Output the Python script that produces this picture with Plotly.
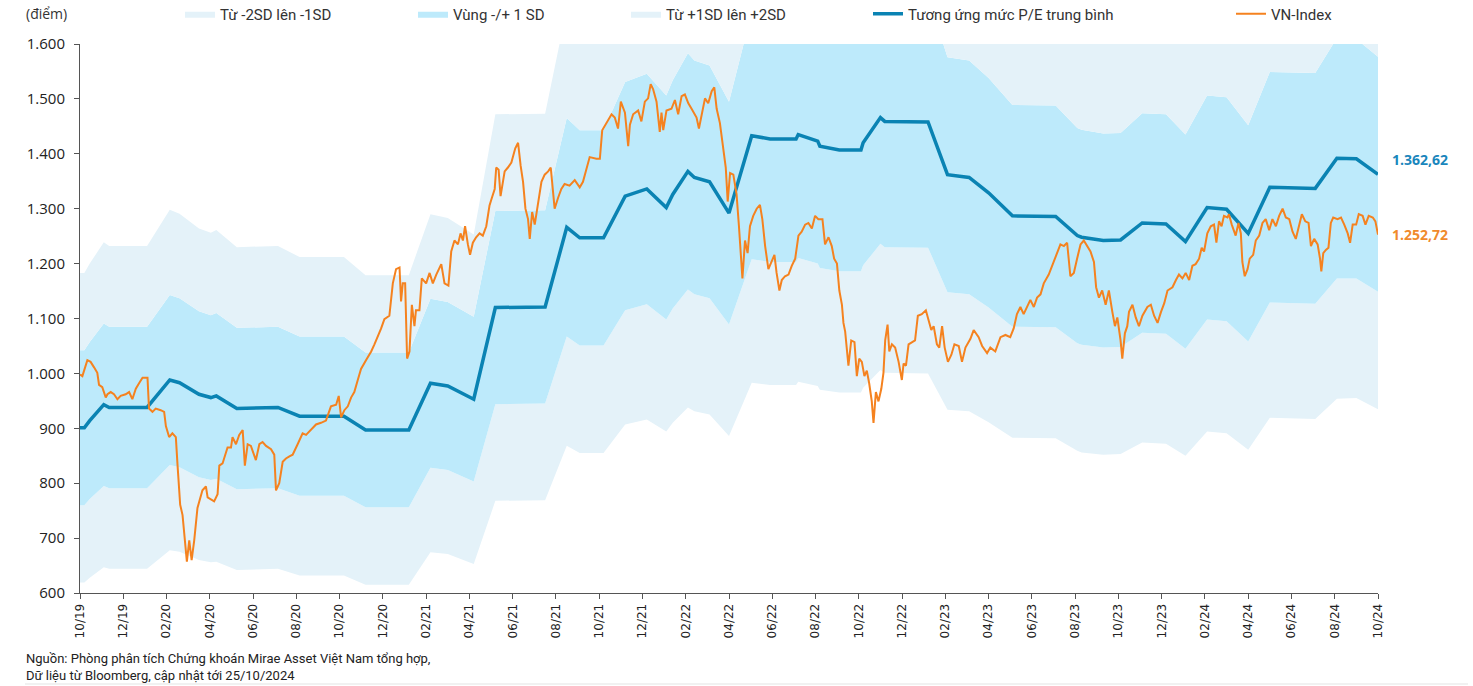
import plotly.graph_objects as go

# ---------------- data ----------------
x_tick_labels = ["10/19", "12/19", "02/20", "04/20", "06/20", "08/20", "10/20", "12/20",
                 "02/21", "04/21", "06/21", "08/21", "10/21", "12/21",
                 "02/22", "04/22", "06/22", "08/22", "10/22", "12/22",
                 "02/23", "04/23", "06/23", "08/23", "10/23", "12/23",
                 "02/24", "04/24", "06/24", "08/24", "10/24"]
x_tick_months = [0, 2, 4, 6, 8, 10, 12, 14, 16, 18, 20, 22, 24, 26, 28, 30,
                 32, 34, 36, 38, 40, 42, 44, 46, 48, 50, 52, 54, 56, 58, 60]
y_tick_values = [600, 700, 800, 900, 1000, 1100, 1200, 1300, 1400, 1500, 1600]
y_tick_labels = ["600", "700", "800", "900", "1.000", "1.100", "1.200", "1.300",
                 "1.400", "1.500", "1.600"]

# months elapsed since 10/2019
mean_months = [0, 0.2, 0.45, 1.1, 1.35, 3.1, 4.15, 4.6, 5.5, 6.05, 6.3, 7.25, 9.15,
               10.15, 12.2, 13.2, 15.2, 16.2, 17.0, 18.2, 19.2, 21.5, 22.5, 23.1,
               24.2, 25.2, 26.2, 27.1, 27.4, 28.1, 28.4, 29.1, 30.0, 31.05, 31.9,
               33.1, 33.2, 34.1, 34.2, 35.1, 36.1, 36.2, 37.0, 37.2, 39.2, 40.1,
               41.1, 42.0, 43.1, 45.1, 46.1, 46.3, 47.3, 48.1, 49.1, 50.2, 51.1,
               52.1, 53.0, 54.0, 55.0, 57.1, 58.1, 59.0, 60.0]
mean_pe_index = [901, 901, 914, 943, 938, 938, 988, 983, 962, 956, 959, 936, 938,
                 922, 922, 897, 897, 982, 977, 953, 1120, 1121, 1266, 1247,
                 1247, 1323, 1336, 1302, 1326, 1368, 1357, 1349, 1292, 1433, 1427,
                 1427, 1435, 1423, 1414, 1407, 1407, 1420, 1466, 1459, 1458, 1362,
                 1357, 1329, 1287, 1286, 1251, 1248, 1242, 1243, 1274, 1272, 1240,
                 1302, 1299, 1255, 1339, 1337, 1392, 1391, 1362.62]
# one standard deviation (index points) at each of the vertices above
sd_points = [141, 141, 143, 148, 147, 147, 155, 154, 151, 150, 151, 147, 147,
             145, 145, 141, 141, 154, 153, 150, 176, 176, 199, 196,
             196, 208, 210, 204, 208, 215, 213, 212, 203, 225, 224,
             224, 225, 223, 222, 221, 221, 223, 230, 229, 229, 214,
             213, 209, 202, 202, 196, 196, 195, 195, 200, 200, 195,
             204, 204, 197, 210, 210, 219, 218, 214]

vn_months = [
    0.00, 0.11, 0.34, 0.49, 0.65, 0.80, 0.88, 1.03, 1.19, 1.27, 1.42, 1.57, 1.73, 1.88,
    2.11, 2.27, 2.42, 2.58, 2.73, 2.89, 3.12, 3.19, 3.35, 3.50, 3.73, 3.89, 3.97, 4.12,
    4.27, 4.43, 4.51, 4.63, 4.74, 4.85, 4.94, 5.05, 5.16, 5.28, 5.43, 5.66, 5.82, 5.90,
    6.05, 6.20, 6.36, 6.44, 6.59, 6.82, 6.98, 7.05, 7.21, 7.36, 7.52, 7.62, 7.75, 7.90,
    8.13, 8.29, 8.44, 8.60, 8.83, 8.98, 9.06, 9.21, 9.37, 9.52, 9.68, 9.83, 10.06, 10.29,
    10.45, 10.60, 10.91, 11.14, 11.37, 11.60, 11.84, 11.96, 12.07, 12.22, 12.38, 12.53,
    12.68, 12.84, 12.99, 13.22, 13.46, 13.61, 13.76, 13.92, 14.07, 14.30, 14.46, 14.61,
    14.77, 14.84, 14.92, 15.03, 15.12, 15.23, 15.34, 15.46, 15.53, 15.69, 15.80, 16.00,
    16.16, 16.31, 16.47, 16.70, 16.85, 17.03, 17.16, 17.31, 17.47, 17.59, 17.70, 17.80,
    17.93, 18.03, 18.16, 18.31, 18.47, 18.62, 18.78, 18.93, 19.04, 19.17, 19.24, 19.35,
    19.44, 19.55, 19.63, 19.78, 19.94, 20.01, 20.12, 20.21, 20.25, 20.37, 20.48, 20.59,
    20.71, 20.79, 20.90, 21.02, 21.17, 21.33, 21.48, 21.64, 21.76, 21.87, 21.94, 22.10,
    22.25, 22.40, 22.63, 22.87, 23.10, 23.25, 23.41, 23.56, 23.87, 24.03, 24.14, 24.34,
    24.57, 24.72, 24.87, 25.00, 25.19, 25.34, 25.42, 25.57, 25.80, 25.95, 26.11, 26.26,
    26.38, 26.49, 26.65, 26.80, 26.88, 26.96, 27.11, 27.34, 27.50, 27.65, 27.81, 27.96,
    28.12, 28.27, 28.50, 28.61, 28.73, 28.89, 29.04, 29.20, 29.32, 29.43, 29.58, 29.74,
    29.85, 29.94, 30.05, 30.20, 30.35, 30.46, 30.62, 30.74, 30.86, 30.97, 31.12, 31.28,
    31.43, 31.54, 31.67, 31.82, 31.94, 32.10, 32.20, 32.33, 32.44, 32.59, 32.75, 32.90,
    33.06, 33.21, 33.36, 33.52, 33.67, 33.83, 33.98, 34.13, 34.32, 34.44, 34.60, 34.75,
    34.86, 34.99, 35.10, 35.22, 35.29, 35.37, 35.52, 35.65, 35.80, 35.91, 36.02, 36.14,
    36.26, 36.37, 36.48, 36.60, 36.68, 36.79, 36.91, 37.04, 37.14, 37.22, 37.33, 37.41,
    37.53, 37.68, 37.84, 37.99, 38.07, 38.18, 38.30, 38.45, 38.60, 38.73, 38.91, 39.10,
    39.22, 39.35, 39.46, 39.61, 39.72, 39.85, 39.97, 40.12, 40.28, 40.42, 40.62, 40.77,
    40.93, 41.16, 41.31, 41.54, 41.70, 41.93, 42.08, 42.31, 42.55, 42.78, 43.00, 43.16,
    43.31, 43.47, 43.62, 43.78, 43.93, 44.09, 44.24, 44.40, 44.55, 44.78, 45.01, 45.17,
    45.32, 45.48, 45.63, 45.78, 45.94, 46.09, 46.25, 46.40, 46.56, 46.71, 46.87, 46.97,
    47.10, 47.25, 47.41, 47.56, 47.72, 47.84, 47.95, 48.10, 48.18, 48.30, 48.41, 48.49,
    48.65, 48.80, 48.95, 49.11, 49.34, 49.50, 49.65, 49.81, 49.97, 50.12, 50.27, 50.50,
    50.66, 50.80, 50.96, 51.11, 51.27, 51.42, 51.57, 51.73, 51.85, 51.96, 52.11, 52.27,
    52.42, 52.53, 52.65, 52.77, 52.88, 53.04, 53.11, 53.24, 53.42, 53.55, 53.66, 53.73,
    53.84, 53.97, 54.07, 54.23, 54.35, 54.51, 54.66, 54.81, 54.97, 55.12, 55.28, 55.43,
    55.59, 55.74, 55.90, 56.05, 56.20, 56.33, 56.48, 56.64, 56.79, 56.90, 57.05, 57.21,
    57.32, 57.38, 57.47, 57.59, 57.71, 57.82, 57.93, 58.13, 58.29, 58.44, 58.60, 58.71,
    58.83, 58.99, 59.11, 59.29, 59.42, 59.57, 59.76, 59.88, 60.00]
vn_index = [
    998, 995, 1024, 1021, 1011, 1001, 979, 975, 956, 962, 966, 962, 953, 959,
    962, 966, 953, 972, 982, 992, 992, 936, 930, 936, 933, 930, 904, 884,
    891, 884, 832, 761, 742, 696, 657, 696, 660, 696, 755, 787, 794, 774,
    771, 767, 780, 832, 836, 865, 865, 884, 871, 888, 897, 832, 871, 868,
    842, 871, 875, 868, 862, 852, 787, 800, 839, 845, 849, 852, 871, 891,
    888, 894, 907, 910, 914, 940, 943, 959, 920, 933, 940, 956,
    966, 988, 1008, 1024, 1040, 1053, 1066, 1082, 1099, 1105, 1164, 1190,
    1193, 1131, 1164, 1164, 1027, 1040, 1125, 1086, 1115, 1115, 1173, 1164,
    1183, 1164, 1180, 1199, 1164, 1160, 1222, 1242, 1235, 1255, 1242, 1268,
    1235, 1216, 1238, 1248, 1255, 1251, 1268, 1306, 1320, 1336, 1375, 1371,
    1323, 1349, 1368, 1375, 1384, 1394, 1410, 1417, 1420, 1378, 1349, 1300,
    1281, 1245, 1294, 1271, 1306, 1349, 1362, 1368, 1375, 1332, 1300, 1320,
    1336, 1345, 1342, 1352, 1339, 1349, 1375, 1394, 1391, 1391, 1443, 1456,
    1472, 1466, 1446, 1495, 1475, 1414, 1453, 1472, 1479, 1459, 1495, 1501,
    1527, 1518, 1495, 1440, 1475, 1443, 1479, 1482, 1498, 1472, 1505, 1508,
    1492, 1482, 1466, 1446, 1472, 1501, 1492, 1514, 1521, 1482, 1456, 1410,
    1375, 1313, 1365, 1362, 1326, 1268, 1173, 1242, 1219, 1268, 1287, 1300,
    1307, 1281, 1232, 1190, 1200, 1216, 1183, 1151, 1170, 1177, 1180, 1196,
    1209, 1251, 1258, 1271, 1274, 1264, 1287, 1281, 1281, 1235, 1248, 1232,
    1209, 1200, 1151, 1125, 1092, 1076, 1014, 1060, 1057, 995, 1027, 1021,
    995, 1005, 982, 949, 910, 966, 949, 972, 1001, 1060, 1089, 1040,
    1053, 1047, 1021, 988, 1018, 1014, 1053, 1057, 1060, 1105, 1108, 1115,
    1099, 1079, 1086, 1053, 1047, 1086, 1047, 1021, 1034, 1053, 1050, 1021,
    1047, 1063, 1079, 1066, 1050, 1037, 1047, 1040, 1066, 1070, 1066, 1082,
    1108, 1121, 1108, 1121, 1134, 1121, 1138, 1144, 1164, 1180, 1203, 1222,
    1235, 1232, 1238, 1177, 1183, 1209, 1235, 1242, 1232, 1222, 1203, 1157,
    1138, 1151, 1125, 1151, 1112, 1086, 1102, 1060, 1027, 1073, 1086, 1112,
    1125, 1102, 1086, 1105, 1121, 1125, 1105, 1092, 1112, 1128, 1151, 1157,
    1170, 1180, 1173, 1183, 1170, 1196, 1199, 1209, 1229, 1222, 1255, 1268,
    1271, 1238, 1277, 1268, 1287, 1284, 1290, 1271, 1251, 1274, 1255, 1203,
    1177, 1190, 1209, 1216, 1242, 1251, 1274, 1281, 1261, 1281, 1268, 1287,
    1300, 1284, 1281, 1258, 1245, 1268, 1290, 1277, 1274, 1232, 1245, 1235,
    1209, 1186, 1219, 1225, 1229, 1274, 1284, 1281, 1284, 1271, 1255, 1238,
    1271, 1271, 1290, 1287, 1271, 1287, 1284, 1277, 1252.72]

last_mean_label = "1.362,62"
last_vn_label = "1.252,72"

# ---------------- derived band edges ----------------
lower2 = [m - 2 * s for m, s in zip(mean_pe_index, sd_points)]
lower1 = [m - s for m, s in zip(mean_pe_index, sd_points)]
upper1 = [m + s for m, s in zip(mean_pe_index, sd_points)]
upper2 = [m + 2 * s for m, s in zip(mean_pe_index, sd_points)]

LIGHT = "#E4F2F9"
CYAN = "#BDEAFB"
BLUE = "#0A83B3"
ORANGE = "#F5821F"
AXIS = "#555555"

W, H = 1473, 686
L, R, T, B = 80, 95, 44, 93
plot_w = W - L - R
plot_h = H - T - B


def px_to_paper(px):
    return (px - L) / plot_w


def py_to_paper(py):
    return (H - B - py) / plot_h


fig = go.Figure()

fig.add_trace(go.Scatter(x=mean_months, y=lower2, mode="lines", line=dict(width=0),
                         showlegend=False, hoverinfo="skip"))
fig.add_trace(go.Scatter(x=mean_months, y=lower1, mode="lines", line=dict(width=0),
                         fill="tonexty", fillcolor=LIGHT, name="Từ -2SD lên -1SD",
                         legend="legend"))
fig.add_trace(go.Scatter(x=mean_months, y=upper1, mode="lines", line=dict(width=0),
                         fill="tonexty", fillcolor=CYAN, name="Vùng -/+ 1 SD",
                         legend="legend2"))
fig.add_trace(go.Scatter(x=mean_months, y=upper2, mode="lines", line=dict(width=0),
                         fill="tonexty", fillcolor=LIGHT, name="Từ +1SD lên +2SD",
                         legend="legend3"))
fig.add_trace(go.Scatter(x=mean_months, y=mean_pe_index, mode="lines",
                         line=dict(color=BLUE, width=3.5),
                         name="Tương ứng mức P/E trung bình", legend="legend4"))
fig.add_trace(go.Scatter(x=vn_months, y=vn_index, mode="lines",
                         line=dict(color=ORANGE, width=2),
                         name="VN-Index", legend="legend5"))

legend_font = dict(family="Roboto", size=15, color="#333333")
legend_y = 1 - 14 / H
legend_common = dict(orientation="h", yref="container", y=legend_y, yanchor="middle",
                     xanchor="left", bgcolor="rgba(0,0,0,0)", font=legend_font,
                     itemwidth=30, tracegroupgap=0)
legend_px = [180, 413, 626, 868, 1231]

fig.update_layout(
    width=W, height=H,
    margin=dict(l=L, r=R, t=T, b=B, autoexpand=False),
    paper_bgcolor="white", plot_bgcolor="white",
    font=dict(family="Open Sans", size=13, color="#333333"),
    legend=dict(x=px_to_paper(legend_px[0]), **legend_common),
    legend2=dict(x=px_to_paper(legend_px[1]), **legend_common),
    legend3=dict(x=px_to_paper(legend_px[2]), **legend_common),
    legend4=dict(x=px_to_paper(legend_px[3]), **legend_common),
    legend5=dict(x=px_to_paper(legend_px[4]), **legend_common),
    xaxis=dict(range=[0, 60], tickmode="array", tickvals=x_tick_months,
               ticktext=x_tick_labels, tickangle=-90, showgrid=False, zeroline=False,
               showline=True, linecolor=AXIS, linewidth=1, ticks="outside",
               ticklen=5, tickcolor=AXIS,
               tickfont=dict(family="DejaVu Sans", size=12, color="#222222")),
    yaxis=dict(range=[600, 1600], tickmode="array", tickvals=y_tick_values,
               ticktext=y_tick_labels, showgrid=False, zeroline=False,
               showline=True, linecolor=AXIS, linewidth=1, ticks="outside",
               ticklen=5, tickcolor=AXIS, ticklabelstandoff=6,
               tickfont=dict(family="Open Sans", size=15, color="#222222")),
    showlegend=True,
)

fig.add_annotation(xref="paper", yref="paper", x=px_to_paper(24), y=py_to_paper(13),
                   text="(điểm)", showarrow=False, xanchor="left", yanchor="middle",
                   font=dict(family="Open Sans", size=14, color="#333333"))
fig.add_annotation(xref="paper", yref="y", x=1, y=mean_pe_index[-1], xshift=12, yshift=15,
                   text=f"<b>{last_mean_label}</b>", showarrow=False, xanchor="left",
                   yanchor="middle", font=dict(family="Open Sans", size=14, color="#1A86BC"))
fig.add_annotation(xref="paper", yref="y", x=1, y=vn_index[-1], xshift=12, yshift=0,
                   text=f"<b>{last_vn_label}</b>", showarrow=False, xanchor="left",
                   yanchor="middle", font=dict(family="Open Sans", size=14, color="#F08A2C"))
fig.add_annotation(xref="paper", yref="paper", x=px_to_paper(24), y=py_to_paper(667),
                   text="Nguồn: Phòng phân tích Chứng khoán Mirae Asset Việt Nam tổng hợp,<br>"
                        "Dữ liệu từ Bloomberg, cập nhật tới 25/10/2024",
                   showarrow=False, xanchor="left", yanchor="middle", align="left",
                   font=dict(family="Roboto", size=13, color="#222222"))
fig.add_shape(type="line", xref="paper", yref="paper",
              x0=px_to_paper(25), x1=px_to_paper(1468),
              y0=py_to_paper(684), y1=py_to_paper(684),
              line=dict(color="#E3E3E3", width=1))

fig.write_html("out.html")
